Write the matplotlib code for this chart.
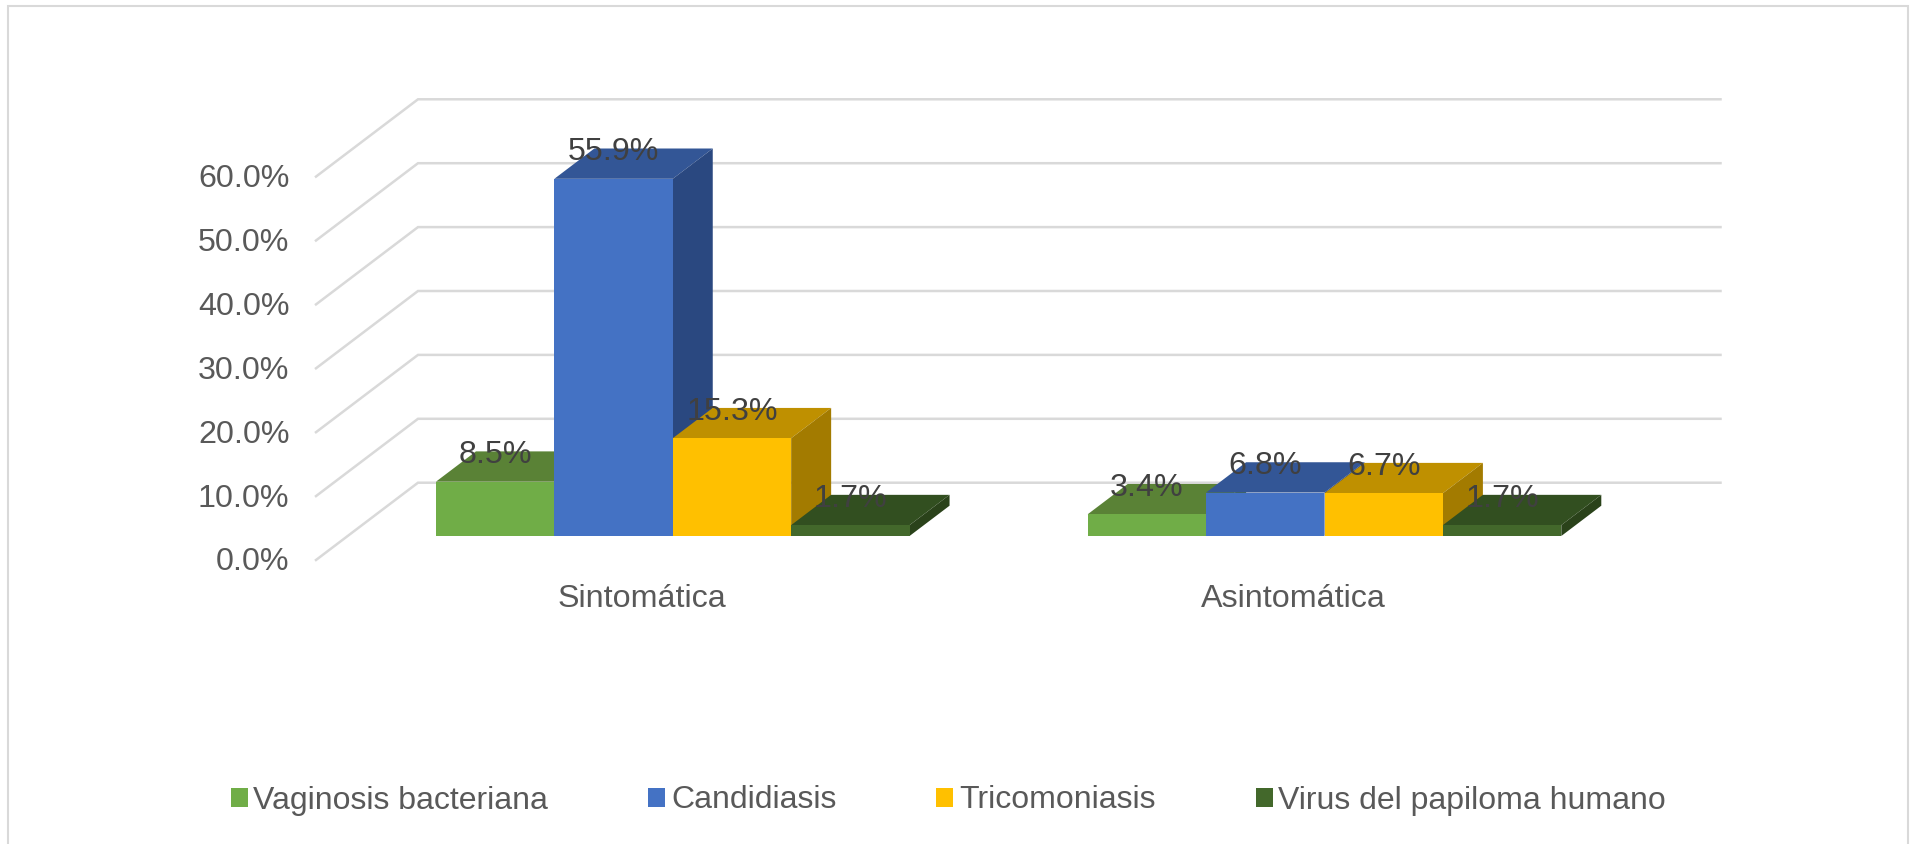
import matplotlib
matplotlib.use('Agg')
import matplotlib.pyplot as plt
from matplotlib.patches import Polygon
from matplotlib.lines import Line2D

plt.rcParams['font.family'] = ['Liberation Sans', 'DejaVu Sans']

categories = ['Sintomática', 'Asintomática']
series_names = ['Vaginosis bacteriana', 'Candidiasis', 'Tricomoniasis', 'Virus del papiloma humano']
vaginosis = [8.5, 3.4]
candidiasis = [55.9, 6.8]
tricomoniasis = [15.3, 6.7]
vph = [1.7, 1.7]
tick_values = [0, 10, 20, 30, 40, 50, 60]
tick_labels = ['0.0%', '10.0%', '20.0%', '30.0%', '40.0%', '50.0%', '60.0%']

front_colors = ['#70AD47', '#4472C4', '#FFC000', '#43682B']
top_colors = ['#5A8236', '#335696', '#BF9000', '#324F20']
side_colors = ['#4F7330', '#2A4880', '#A37B00', '#2A421A']

W, H = 1912, 844
fig = plt.figure(figsize=(W / 100, H / 100), dpi=100)
ax = fig.add_axes([0, 0, 1, 1])

# data units: 1 on x is the distance between the two groups, y is percent
px_x = 651.75
px_y = 6.39
x0 = 672.75
y0 = 536
ax.set_xlim(-x0 / px_x, (W - x0) / px_x)
ax.set_ylim((y0 - H) / px_y, y0 / px_y)
ax.axis('off')

bar_w = 118.4 / px_x
depth_x = 40 / px_x
depth_y = 30.3 / px_y
text_shift = 2.5 / px_y  # Liberation sits a bit high with va='center'

# floor offsets of the back wall
wall_front_x = (316 - x0) / px_x
wall_back_x = (418 - x0) / px_x
wall_right_x = (1720.5 - x0) / px_x
wall_front_y = (y0 - 560) / px_y
wall_back_y = (y0 - 482.7) / px_y

grid_color = '#D9D9D9'
for v, lab in zip(tick_values, tick_labels):
    ax.plot([wall_front_x, wall_back_x, wall_right_x],
            [wall_front_y + v, wall_back_y + v, wall_back_y + v],
            color=grid_color, lw=1.8, solid_joinstyle='miter', zorder=1)
    ax.text((289.5 - x0) / px_x, wall_front_y + v - text_shift, lab, ha='right', va='center',
            fontsize=23.2, color='#595959')

all_series = [vaginosis, candidiasis, tricomoniasis, vph]
z = 2
for i, vals in enumerate(all_series):
    for j, v in enumerate(vals):
        left = j + (i - 2) * bar_w
        right = left + bar_w
        ax.add_patch(Polygon([(left, v), (right, v), (right + depth_x, v + depth_y), (left + depth_x, v + depth_y)],
                             facecolor=top_colors[i], edgecolor='none', zorder=z))
        ax.add_patch(Polygon([(right, 0), (right + depth_x, depth_y), (right + depth_x, v + depth_y), (right, v)],
                             facecolor=side_colors[i], edgecolor='none', zorder=z))
    ax.bar([j + (i - 1.5) * bar_w for j in range(len(vals))], vals, width=bar_w,
           color=front_colors[i], label=series_names[i], zorder=z + 0.5)
    z += 1

# labels sit centred over each bar, level with the back edge of its top
for i, vals in enumerate(all_series):
    for j, v in enumerate(vals):
        ax.text(j + (i - 1.5) * bar_w, v + depth_y - 0.05 - 1.4 * text_shift, f'{v:.1f}%',
                ha='center', va='center', fontsize=23.2, color='#404040', zorder=20)

for j, cat in enumerate(categories):
    ax.text(j - 31 / px_x, (y0 - 596.5) / px_y - text_shift, cat, ha='center', va='center',
            fontsize=23.2, color='#595959')

handles, labels = ax.get_legend_handles_labels()
leg = ax.legend(handles, labels, ncol=4, frameon=False, fontsize=23,
                loc='center', bbox_to_anchor=((229.7 + 1667) / 2 / W, 1 - 800.5 / H),
                bbox_transform=fig.transFigure,
                handlelength=0.533, handleheight=0.533, handletextpad=0.18,
                columnspacing=3.13, labelcolor='#595959', borderpad=0, borderaxespad=0)

# chart frame: left, top and right only, the bottom edge is cut off
frame_x = [8.3 / W, 8.3 / W, 1907.8 / W, 1907.8 / W]
frame_y = [0, 1 - 5.8 / H, 1 - 5.8 / H, 0]
fig.add_artist(Line2D(frame_x, frame_y, transform=fig.transFigure, color=grid_color, lw=1.5,
                      solid_joinstyle='miter'))

plt.savefig('out.png', dpi=100)
